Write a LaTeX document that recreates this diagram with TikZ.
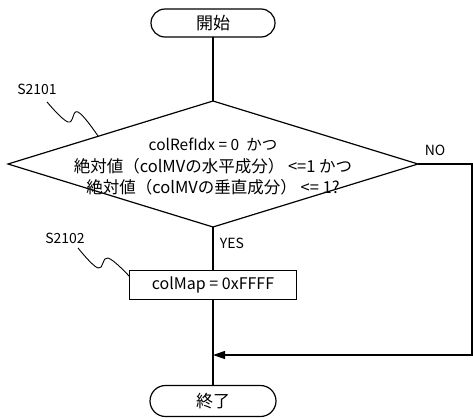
\documentclass[tikz,border=0pt]{standalone}
\usepackage{fontspec}
\setmainfont{Noto Sans CJK JP}
\usetikzlibrary{shapes.geometric,shapes.misc,arrows.meta,calc}
\begin{document}
\begin{tikzpicture}[x=1pt,y=-1pt,line width=1.2pt,
  term/.style={draw,rounded rectangle,minimum width=124pt,minimum height=28pt,inner sep=0pt,outer sep=0pt,font=\fontsize{17}{20}\selectfont},
  dec/.style={draw,diamond,minimum width=410pt,minimum height=126pt,inner sep=0pt,outer sep=0pt},
  dectext/.style={align=center,inner sep=0pt,font=\fontsize{16.5}{21.5}\selectfont},
  proc/.style={draw,rectangle,minimum width=167pt,minimum height=29pt,inner sep=0pt,outer sep=0pt,font=\fontsize{16}{18}\selectfont},
  lbl/.style={inner sep=0pt,font=\fontsize{14}{16}\selectfont},
  leader/.style={line width=0.9pt},
  tip/.style={-{Triangle[length=12pt,width=8pt]}}
]
\useasboundingbox (0,0) rectangle (473,418);
\node[term] (start) at (213,23) {開始};
\node[dec] (d) at (213,164) {};
\node[dectext] (dt) at (213,167) {{\fontsize{15.5}{21.5}\selectfont colRefIdx = 0 \ かつ}\\絶対値（colMVの水平成分） <=1 かつ\\絶対値（colMVの垂直成分） <= 1?};
\node[proc] (p) at (213,285) {colMap = 0xFFFF};
\node[term,minimum width=126pt,minimum height=31pt] (end) at (213,401) {終了};
\node[lbl] (s1) at (37,89) {S2101};
\node[lbl] (s2) at (65,238) {S2102};
\node[lbl] (yes) at (232,243) {YES};
\node[lbl] (no) at (435,150) {NO};
\coordinate (j) at (213,355);
\coordinate (r1) at (472,164);
\coordinate (r2) at (472,355);
\coordinate (a1) at ($(s1.south)+(10,7)$);
\coordinate (a2) at ($(d.west)!0.44!(d.north)$);
\coordinate (b1) at ($(s2.south)+(13,4)$);
\coordinate (b2) at ($(p.north west)+(0,6)$);
\draw (start.south) -- (d.north);
\draw (d.south) -- (p.north);
\draw (p.south) -- (end.north);
\draw[tip] (d.east) -- (r1) -- (r2) -- (j);
\draw[leader] plot[smooth,tension=0.7] coordinates {(a1) (68,122) (78,112) (a2)};
\draw[leader] plot[smooth,tension=0.7] coordinates {(b1) (98,268) (108,258) (b2)};
\end{tikzpicture}
\end{document}
